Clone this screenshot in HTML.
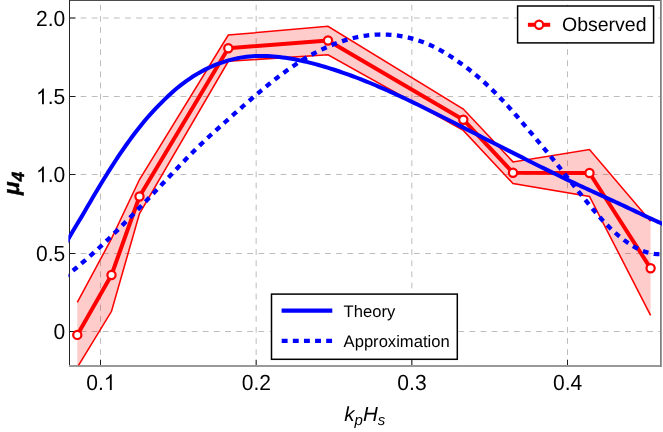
<!DOCTYPE html>
<html><head><meta charset="utf-8"><title>chart</title>
<style>
html,body{margin:0;padding:0;background:#fff;}
svg{display:block;font-family:"Liberation Sans",sans-serif;text-rendering:geometricPrecision;}
</style></head><body>
<svg width="663" height="432" viewBox="0 0 663 432" style="will-change:transform">
<rect width="663" height="432" fill="#fff"/>
<defs><clipPath id="c"><rect x="68.4" y="0" width="593.6" height="365.3"/></clipPath></defs>
<g fill="none" stroke="#bdbdbd" stroke-width="1"><path d="M69.5,331.50 H660.8" stroke-dasharray="5.8 5.31"/><path d="M69.5,253.50 H660.8" stroke-dasharray="5.8 5.31"/><path d="M69.5,174.50 H660.8" stroke-dasharray="5.8 5.31"/><path d="M69.5,96.50 H660.8" stroke-dasharray="5.8 5.31"/><path d="M69.5,18.00 H660.8" stroke-dasharray="5.8 5.31"/><path d="M100.50,366.1 V0.5" stroke-dasharray="5.8 5.31"/><path d="M256.17,366.1 V0.5" stroke-dasharray="5.8 5.31"/><path d="M411.83,366.1 V0.5" stroke-dasharray="5.8 5.31"/><path d="M567.50,366.1 V0.5" stroke-dasharray="5.8 5.31"/></g>
<!-- frame -->
<g fill="none" stroke="#1a1a1a" stroke-width="1"><path d="M69.5,331.50 h6"/><path d="M69.5,253.50 h6"/><path d="M69.5,174.50 h6"/><path d="M69.5,96.50 h6"/><path d="M69.5,18.00 h6"/><path d="M100.50,366.0 v-6.3"/><path d="M256.17,366.0 v-6.3"/><path d="M411.83,366.0 v-6.3"/><path d="M567.50,366.0 v-6.3"/></g>
<path d="M69,0.5 H662" fill="none" stroke="#4c4c4c" stroke-width="1"/><path d="M69.5,0 V366.5" fill="none" stroke="#262626" stroke-width="1"/>
<rect x="69" y="365" width="593" height="2" fill="#999"/>
<rect x="660" y="0" width="1" height="367" fill="#808080"/><rect x="661" y="0" width="1" height="367" fill="#9d9d9d"/>
<g clip-path="url(#c)">
<path d="M77.3,302.4 L111.5,238.7 L139.5,179.5 L228.3,35.1 L328.0,26.3 L463.3,109.0 L513.0,161.9 L589.5,149.6 L650.6,221.3 L650.6,315.3 L589.5,196.4 L513.0,183.5 L463.3,130.4 L328.0,54.7 L228.3,61.3 L139.5,213.5 L111.5,311.3 L77.3,367.4Z" fill="#ff0000" fill-opacity="0.2" stroke="none"/>
<path d="M77.3,302.4 L111.5,238.7 L139.5,179.5 L228.3,35.1 L328.0,26.3 L463.3,109.0 L513.0,161.9 L589.5,149.6 L650.6,221.3" fill="none" stroke="#ff0000" stroke-width="1.55" stroke-linejoin="miter"/>
<path d="M77.3,367.4 L111.5,311.3 L139.5,213.5 L228.3,61.3 L328.0,54.7 L463.3,130.4 L513.0,183.5 L589.5,196.4 L650.6,315.3" fill="none" stroke="#ff0000" stroke-width="1.55" stroke-linejoin="miter"/>
<path d="M77.3,334.9 L111.5,275.0 L139.5,196.5 L228.3,48.2 L328.0,40.5 L463.3,119.7 L513.0,172.7 L589.5,173.0 L650.6,268.3" fill="none" stroke="#ff0000" stroke-width="4" stroke-linejoin="round"/>
<g fill="#fff" stroke="#ff0000" stroke-width="2.2"><circle cx="77.3" cy="334.9" r="4.1"/><circle cx="111.5" cy="275.0" r="4.1"/><circle cx="139.5" cy="196.5" r="4.1"/><circle cx="228.3" cy="48.2" r="4.1"/><circle cx="328.0" cy="40.5" r="4.1"/><circle cx="463.3" cy="119.7" r="4.1"/><circle cx="513.0" cy="172.7" r="4.1"/><circle cx="589.5" cy="173.0" r="4.1"/><circle cx="650.6" cy="268.3" r="4.1"/></g>
<path d="M66.5,242.33 L69.5,237.06 L72.5,231.86 L75.5,226.73 L78.5,221.77 L81.5,216.86 L84.5,211.82 L87.5,206.61 L90.5,201.45 L93.5,196.33 L96.5,191.27 L99.5,186.26 L102.5,181.30 L105.5,176.43 L108.5,171.62 L111.5,166.90 L114.5,162.25 L117.5,157.68 L120.5,153.20 L123.5,148.80 L126.5,144.49 L129.5,140.29 L132.5,136.22 L135.5,132.26 L138.5,128.41 L141.5,124.66 L144.5,121.01 L147.5,117.47 L150.5,114.09 L153.5,110.83 L156.5,107.68 L159.5,104.61 L162.5,101.61 L165.5,98.65 L168.5,95.77 L171.5,93.00 L174.5,90.34 L177.5,87.81 L180.5,85.38 L183.5,83.08 L186.5,80.88 L189.5,78.79 L192.5,76.80 L195.5,74.92 L198.5,73.14 L201.5,71.46 L204.5,69.88 L207.5,68.39 L210.5,67.00 L213.5,65.70 L216.5,64.49 L219.5,63.38 L222.5,62.34 L225.5,61.36 L228.5,60.45 L231.5,59.61 L234.5,58.86 L237.5,58.20 L240.5,57.64 L243.5,57.16 L246.5,56.75 L249.5,56.42 L252.5,56.17 L255.5,56.01 L258.5,55.92 L261.5,55.90 L264.5,55.94 L267.5,56.04 L270.5,56.21 L273.5,56.42 L276.5,56.70 L279.5,57.02 L282.5,57.40 L285.5,57.82 L288.5,58.28 L291.5,58.79 L294.5,59.34 L297.5,59.93 L300.5,60.56 L303.5,61.22 L306.5,61.91 L309.5,62.64 L312.5,63.40 L315.5,64.18 L318.5,65.00 L321.5,65.85 L324.5,66.72 L327.5,67.62 L330.5,68.55 L333.5,69.51 L336.5,70.49 L339.5,71.49 L342.5,72.52 L345.5,73.57 L348.5,74.65 L351.5,75.75 L354.5,76.86 L357.5,78.00 L360.5,79.16 L363.5,80.34 L366.5,81.54 L369.5,82.77 L372.5,84.01 L375.5,85.27 L378.5,86.55 L381.5,87.84 L384.5,89.15 L387.5,90.48 L390.5,91.83 L393.5,93.19 L396.5,94.56 L399.5,95.95 L402.5,97.35 L405.5,98.77 L408.5,100.19 L411.5,101.63 L414.5,103.08 L417.5,104.53 L420.5,106.00 L423.5,107.47 L426.5,108.95 L429.5,110.44 L432.5,111.94 L435.5,113.44 L438.5,114.95 L441.5,116.46 L444.5,117.97 L447.5,119.50 L450.5,121.02 L453.5,122.55 L456.5,124.08 L459.5,125.61 L462.5,127.15 L465.5,128.68 L468.5,130.22 L471.5,131.76 L474.5,133.30 L477.5,134.84 L480.5,136.37 L483.5,137.91 L486.5,139.44 L489.5,140.97 L492.5,142.50 L495.5,144.02 L498.5,145.55 L501.5,147.07 L504.5,148.58 L507.5,150.10 L510.5,151.61 L513.5,153.12 L516.5,154.64 L519.5,156.15 L522.5,157.66 L525.5,159.17 L528.5,160.67 L531.5,162.18 L534.5,163.68 L537.5,165.17 L540.5,166.67 L543.5,168.15 L546.5,169.64 L549.5,171.11 L552.5,172.58 L555.5,174.05 L558.5,175.51 L561.5,176.95 L564.5,178.39 L567.5,179.83 L570.5,181.25 L573.5,182.66 L576.5,184.07 L579.5,185.47 L582.5,186.87 L585.5,188.26 L588.5,189.65 L591.5,191.03 L594.5,192.41 L597.5,193.79 L600.5,195.16 L603.5,196.54 L606.5,197.91 L609.5,199.28 L612.5,200.66 L615.5,202.03 L618.5,203.41 L621.5,204.79 L624.5,206.18 L627.5,207.58 L630.5,209.00 L633.5,210.42 L636.5,211.84 L639.5,213.26 L642.5,214.68 L645.5,216.10 L648.5,217.50 L651.5,218.90 L654.5,220.28 L657.5,221.65 L660.5,223.00 L663.5,224.33" fill="none" stroke="#0000ff" stroke-width="4"/>
<path d="M66.5,275.83 L69.5,273.43 L72.5,271.00 L75.5,268.53 L78.5,266.02 L81.5,263.48 L84.5,260.90 L87.5,258.29 L90.5,255.64 L93.5,252.96 L96.5,250.23 L99.5,247.47 L102.5,244.66 L105.5,241.81 L108.5,238.93 L111.5,236.02 L114.5,233.08 L117.5,230.11 L120.5,227.12 L123.5,224.11 L126.5,221.08 L129.5,218.03 L132.5,214.98 L135.5,211.91 L138.5,208.83 L141.5,205.75 L144.5,202.65 L147.5,199.54 L150.5,196.42 L153.5,193.28 L156.5,190.13 L159.5,186.97 L162.5,183.79 L165.5,180.61 L168.5,177.43 L171.5,174.24 L174.5,171.07 L177.5,167.90 L180.5,164.76 L183.5,161.63 L186.5,158.54 L189.5,155.48 L192.5,152.46 L195.5,149.49 L198.5,146.57 L201.5,143.69 L204.5,140.86 L207.5,138.06 L210.5,135.29 L213.5,132.55 L216.5,129.83 L219.5,127.13 L222.5,124.44 L225.5,121.76 L228.5,119.08 L231.5,116.40 L234.5,113.73 L237.5,111.07 L240.5,108.41 L243.5,105.76 L246.5,103.13 L249.5,100.52 L252.5,97.93 L255.5,95.36 L258.5,92.81 L261.5,90.29 L264.5,87.81 L267.5,85.35 L270.5,82.94 L273.5,80.56 L276.5,78.22 L279.5,75.92 L282.5,73.67 L285.5,71.47 L288.5,69.33 L291.5,67.23 L294.5,65.20 L297.5,63.22 L300.5,61.30 L303.5,59.45 L306.5,57.65 L309.5,55.92 L312.5,54.25 L315.5,52.64 L318.5,51.10 L321.5,49.62 L324.5,48.21 L327.5,46.86 L330.5,45.57 L333.5,44.36 L336.5,43.21 L339.5,42.13 L342.5,41.12 L345.5,40.17 L348.5,39.30 L351.5,38.50 L354.5,37.76 L357.5,37.10 L360.5,36.52 L363.5,36.00 L366.5,35.56 L369.5,35.19 L372.5,34.90 L375.5,34.68 L378.5,34.54 L381.5,34.47 L384.5,34.49 L387.5,34.59 L390.5,34.77 L393.5,35.04 L396.5,35.39 L399.5,35.82 L402.5,36.34 L405.5,36.94 L408.5,37.63 L411.5,38.40 L414.5,39.25 L417.5,40.19 L420.5,41.22 L423.5,42.32 L426.5,43.52 L429.5,44.80 L432.5,46.16 L435.5,47.63 L438.5,49.19 L441.5,50.84 L444.5,52.58 L447.5,54.39 L450.5,56.29 L453.5,58.25 L456.5,60.29 L459.5,62.39 L462.5,64.55 L465.5,66.78 L468.5,69.08 L471.5,71.46 L474.5,73.90 L477.5,76.42 L480.5,79.01 L483.5,81.67 L486.5,84.41 L489.5,87.22 L492.5,90.11 L495.5,93.07 L498.5,96.12 L501.5,99.23 L504.5,102.41 L507.5,105.66 L510.5,108.97 L513.5,112.35 L516.5,115.78 L519.5,119.26 L522.5,122.79 L525.5,126.34 L528.5,129.89 L531.5,133.44 L534.5,137.00 L537.5,140.55 L540.5,144.12 L543.5,147.70 L546.5,151.32 L549.5,154.97 L552.5,158.67 L555.5,162.41 L558.5,166.18 L561.5,169.97 L564.5,173.77 L567.5,177.58 L570.5,181.40 L573.5,185.21 L576.5,189.00 L579.5,192.76 L582.5,196.50 L585.5,200.22 L588.5,203.91 L591.5,207.55 L594.5,211.13 L597.5,214.62 L600.5,218.02 L603.5,221.30 L606.5,224.45 L609.5,227.44 L612.5,230.29 L615.5,233.01 L618.5,235.61 L621.5,238.07 L624.5,240.39 L627.5,242.55 L630.5,244.56 L633.5,246.39 L636.5,248.05 L639.5,249.53 L642.5,250.82 L645.5,251.90 L648.5,252.78 L651.5,253.44 L654.5,253.88 L657.5,254.09 L660.5,254.06 L663.5,253.78" fill="none" stroke="#0000ff" stroke-width="4.3" stroke-dasharray="5.7 5.425" stroke-dashoffset="2.9"/>
</g>
<g font-size="22" fill="#000"><g transform="translate(65.3,339.30) scale(0.957,0.992)"><text x="0" y="0" text-anchor="end">0</text></g><g transform="translate(65.3,261.30) scale(0.957,0.992)"><text x="0" y="0" text-anchor="end">0.5</text></g><g transform="translate(65.3,182.30) scale(0.957,0.992)"><text x="0" y="0" text-anchor="end">.0</text><path d="M763 0H583V1147Q518 1085 412.5 1023T223 930V1104Q374 1175 487 1276T647 1472H763Z" transform="translate(-30.58,0) scale(0.010742,-0.010742)"/></g><g transform="translate(65.3,104.30) scale(0.957,0.992)"><text x="0" y="0" text-anchor="end">.5</text><path d="M763 0H583V1147Q518 1085 412.5 1023T223 930V1104Q374 1175 487 1276T647 1472H763Z" transform="translate(-30.58,0) scale(0.010742,-0.010742)"/></g><g transform="translate(65.3,25.80) scale(0.957,0.992)"><text x="0" y="0" text-anchor="end">2.0</text></g><g transform="translate(100.95,390.0) scale(0.957,0.992)"><text x="-15.29" y="0">0.</text><path d="M763 0H583V1147Q518 1085 412.5 1023T223 930V1104Q374 1175 487 1276T647 1472H763Z" transform="translate(3.06,0) scale(0.010742,-0.010742)"/></g><g transform="translate(256.32,390.0) scale(0.957,0.992)"><text x="0" y="0" text-anchor="middle">0.2</text></g><g transform="translate(411.98,390.0) scale(0.957,0.992)"><text x="0" y="0" text-anchor="middle">0.3</text></g><g transform="translate(567.65,390.0) scale(0.957,0.992)"><text x="0" y="0" text-anchor="middle">0.4</text></g></g>
<!-- axis labels -->
<text transform="translate(19.3,195.1) rotate(-90)" font-size="22.5" font-weight="bold" font-style="italic" fill="#000" stroke="#000" stroke-width="0.4">μ<tspan font-size="17.6" dy="4.6">4</tspan></text>
<text x="344.2" y="421.2" font-size="20.5" font-style="italic" fill="#000">k<tspan font-size="15" dy="4">p</tspan><tspan dy="-4" dx="0.2">H</tspan><tspan font-size="15" dy="4" dx="-0.1">s</tspan></text>
<!-- legend 1 -->
<rect x="517.6" y="6" width="136" height="36.9" fill="#fff" stroke="#000" stroke-width="1.5"/>
<path d="M527.9,24.8 H550.2" stroke="#ff0000" stroke-width="4" fill="none"/>
<circle cx="539.1" cy="24.8" r="4.1" fill="#fff" stroke="#ff0000" stroke-width="2.2"/>
<text x="562" y="31.3" font-size="19.5" fill="#000">Observed</text>
<!-- legend 2 -->
<rect x="271.5" y="294.1" width="185.8" height="65.2" fill="#fff" stroke="#000" stroke-width="1.5"/>
<path d="M281.6,310.6 H332.3" stroke="#0000ff" stroke-width="4.3" fill="none"/>
<path d="M281.7,340.9 H332.3" stroke="#0000ff" stroke-width="4.3" fill="none" stroke-dasharray="5.9 5.22"/>
<text x="343.6" y="316.5" font-size="16.6" fill="#000">Theory</text>
<text x="343.6" y="347.2" font-size="16.6" fill="#000">Approximation</text>
</svg>
</body></html>
